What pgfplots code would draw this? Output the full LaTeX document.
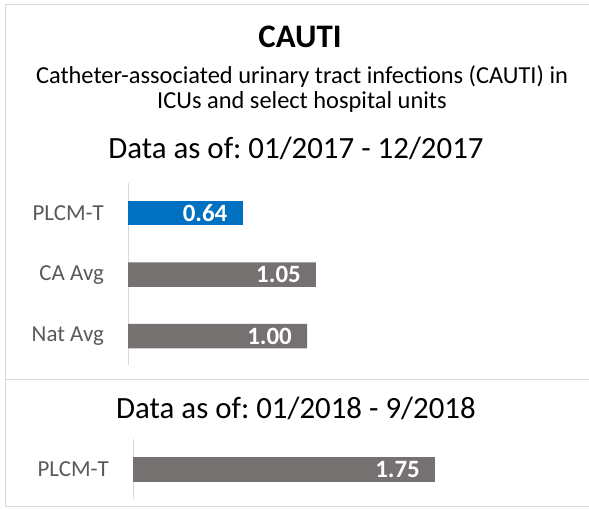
\documentclass[border=0pt]{standalone}
\usepackage{fontspec}
\setmainfont{Carlito}
\usepackage{pgfplots}
\pgfplotsset{compat=1.18}
\definecolor{barBlue}{HTML}{0070C0}
\definecolor{barGrey}{HTML}{767171}
\definecolor{tickGrey}{HTML}{595959}
\definecolor{lineGrey}{HTML}{D9D9D9}
\frenchspacing

\pgfplotsset{cauti/.style={
  xbar, bar width=24.5bp, bar shift=0pt, xmin=0, clip=false,
  axis x line=none, axis y line*=left,
  axis line style={lineGrey, line width=1bp},
  major tick length=0pt,
  yticklabel style={anchor=east, inner sep=0pt, xshift=-24bp, text=tickGrey,
    font=\fontsize{23}{23}\selectfont},
  point meta=x,
  nodes near coords={\pgfmathprintnumber[fixed,fixed zerofill,precision=2,assume math mode=true]{\pgfplotspointmeta}},
  nodes near coords style={anchor=east, xshift=-15bp, inner sep=0pt, text=white,
    font=\fontsize{25}{25}\selectfont\bfseries},
}}

\begin{document}
\begin{tikzpicture}
\useasboundingbox (0,0) rectangle (589bp,509bp);
\draw[lineGrey, line width=1bp] (589bp,504bp) -- (5.5bp,504bp) -- (5.5bp,2bp) -- (589bp,2bp);
\draw[lineGrey, line width=1bp] (5.5bp,129bp) -- (589bp,129bp);

\node[anchor=base, font=\fontsize{33}{33}\selectfont\bfseries] at (300bp,461bp) {CAUTI};
\node[anchor=base, font=\fontsize{24.5}{24.5}\selectfont] at (302bp,425bp) {Catheter-associated urinary tract infections (CAUTI) in};
\node[anchor=base, font=\fontsize{24.5}{24.5}\selectfont] at (302bp,400bp) {ICUs and select hospital units};
\node[anchor=base, font=\fontsize{31}{31}\selectfont] at (296bp,350bp) {Data as of: 01/2017 - 12/2017};

\begin{axis}[cauti, at={(128bp,144bp)}, anchor=south west,
  x=179bp, y=61.5bp, xmax=1.3, ymin=-0.47, ymax=2.49,
  ytick={0,1,2}, yticklabels={Nat Avg, CA Avg, PLCM-T}]
\addplot[fill=barGrey, draw=none] coordinates {(1.00,0) (1.05,1)};
\addplot[fill=barBlue, draw=none] coordinates {(0.64,2)};
\end{axis}

\node[anchor=base, font=\fontsize{31}{31}\selectfont] at (296bp,90bp) {Data as of: 01/2018 - 9/2018};

\begin{axis}[cauti, at={(133bp,10bp)}, anchor=south west,
  x=172.6bp, y=30bp, xmax=2, ymin=-0.98, ymax=1.02,
  ytick={0}, yticklabels={PLCM-T}]
\addplot[fill=barGrey, draw=none] coordinates {(1.75,0)};
\end{axis}
\end{tikzpicture}
\end{document}
